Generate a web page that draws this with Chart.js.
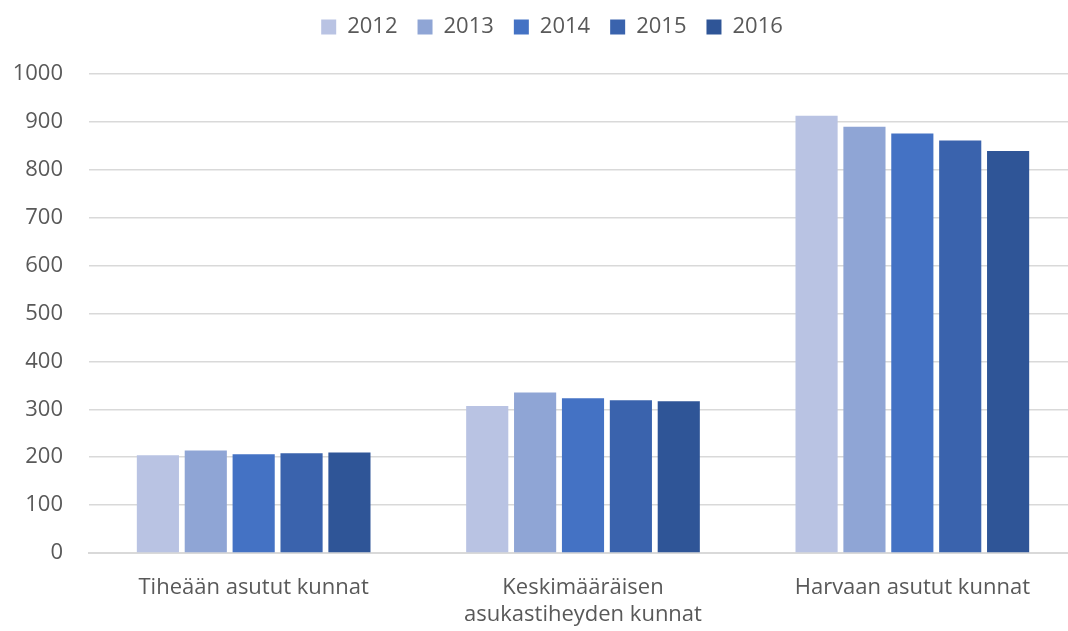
<!DOCTYPE html>
<html>
<head>
<meta charset="utf-8">
<script src="https://cdn.jsdelivr.net/npm/chart.js@4"></script>
<style>
  html, body { margin: 0; padding: 0; background: #fff; overflow: hidden; }
</style>
</head>
<body>
<canvas id="mycanvas" width="1106" height="631"></canvas>
<script>
// kuntaryhmät
var categories = ["Tiheään asutut kunnat", ["Keskimääräisen", "asukastiheyden kunnat"], "Harvaan asutut kunnat"];
var years = ["2012", "2013", "2014", "2015", "2016"];

var v2012 = [204, 307, 913];
var v2013 = [214, 335, 890];
var v2014 = [206, 323, 876];
var v2015 = [208, 319, 861];
var v2016 = [210, 317, 839];

var colors = ["#B9C3E3", "#8FA5D5", "#4472C4", "#3A63AD", "#2F5597"];

var ctx = document.getElementById("mycanvas");

var chartdata = {
	labels: categories,
	datasets: [v2012, v2013, v2014, v2015, v2016].map(function(vals, i) {
		return {
			label: years[i],
			data: vals,
			backgroundColor: colors[i],
			borderWidth: 0,
			categoryPercentage: 0.727,
			barPercentage: 0.88
		};
	})
};

// extra space under the legend, and nudge it to the right a bit
var legendGap = {
	id: 'legendGap',
	beforeInit: function(chart) {
		var fit = chart.legend.fit;
		chart.legend.fit = function() {
			fit.call(this);
			this.height += 26;
		};
	},
	afterLayout: function(chart) {
		chart.legend.left += 7;
		chart.legend.right += 7;
	}
};

var BarGraph = new Chart(ctx, {
	type: 'bar',
	data: chartdata,
	plugins: [legendGap],
	options: {
		responsive: false,
		animation: false,
		layout: { padding: { left: 13, right: 29, top: -4, bottom: 3 } },
		plugins: {
			tooltip: { enabled: false },
			legend: {
				position: 'top',
				labels: {
					font: { family: 'Open Sans', size: 22 },
					color: '#595959',
					boxWidth: 15,
					boxHeight: 15,
					padding: 20
				}
			}
		},
		scales: {
			x: {
				afterFit: function(scale) { scale.height = 75; },
				grid: { display: false, drawTicks: false },
				border: { color: '#d9d9d9', width: 2 },
				ticks: {
					font: { family: 'Open Sans', size: 22 },
					color: '#595959',
					padding: 22,
					maxRotation: 0,
					autoSkip: false
				}
			},
			y: {
				min: 0,
				max: 1000,
				afterFit: function(scale) { scale.width = 76; },
				ticks: {
					stepSize: 100,
					font: { family: 'Open Sans', size: 22 },
					color: '#595959',
					padding: 26,
					callback: function(v) { return String(v); }
				},
				grid: { color: '#d9d9d9', lineWidth: 1.5, drawTicks: false },
				border: { display: false }
			}
		}
	}
});
</script>
</body>
</html>
